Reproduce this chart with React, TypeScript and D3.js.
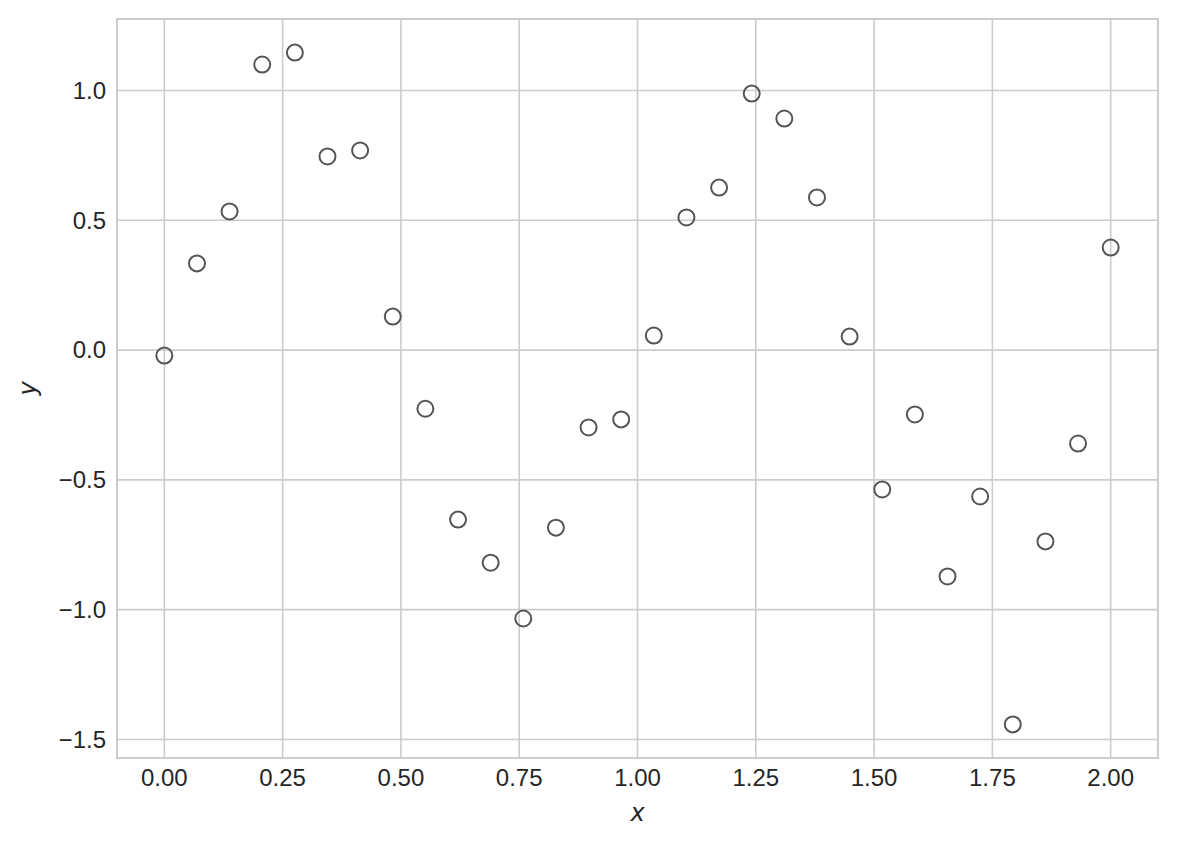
import React from "react";
import * as d3 from "d3";

const xValues = [
  0, 0.069, 0.1379, 0.2069, 0.2759, 0.3448, 0.4138, 0.4828, 0.5517, 0.6207,
  0.6897, 0.7586, 0.8276, 0.8966, 0.9655, 1.0345, 1.1034, 1.1724, 1.2414, 1.3103,
  1.3793, 1.4483, 1.5172, 1.5862, 1.6552, 1.7241, 1.7931, 1.8621, 1.931, 2.0,
];
const yValues = [
  -0.021, 0.334, 0.534, 1.1, 1.146, 0.746, 0.769, 0.129, -0.226, -0.653,
  -0.819, -1.034, -0.684, -0.298, -0.267, 0.056, 0.511, 0.626, 0.988, 0.892,
  0.588, 0.052, -0.537, -0.248, -0.872, -0.564, -1.442, -0.737, -0.36, 0.395,
];
const xTicks = [0, 0.25, 0.5, 0.75, 1.0, 1.25, 1.5, 1.75, 2.0];
const yTicks = [-1.5, -1.0, -0.5, 0.0, 0.5, 1.0];
const xLabel = "x";
const yLabel = "y";

const W = 1177;
const H = 845;
const L = 117, R = 1158, T = 19, B = 758;
const FONT = "'Liberation Sans', Arial, sans-serif";

function padded([a, b]: [number, number]): [number, number] {
  const m = (b - a) * 0.05;
  return [a - m, b + m];
}

export default function App() {
  const x = d3.scaleLinear().domain(padded(d3.extent(xValues) as [number, number])).range([L, R]);
  const y = d3.scaleLinear().domain(padded(d3.extent(yValues) as [number, number])).range([B, T]);
  const fx = d3.format(".2f");
  const fy = (v: number) => d3.format(".1f")(v).replace("-", "\u2212");
  const pts = xValues.map((v, i) => [v, yValues[i]]);

  return (
    <svg
      width={W}
      height={H}
      style={{ position: "absolute", left: 0, top: 0, display: "block", background: "#fff" }}
    >
      <rect x={0} y={0} width={W} height={H} fill="#fff" />
      {xTicks.map((t) => (
        <line key={"gx" + t} x1={x(t)} x2={x(t)} y1={T} y2={B} stroke="#cccccc" strokeWidth={1.6} />
      ))}
      {yTicks.map((t) => (
        <line key={"gy" + t} x1={L} x2={R} y1={y(t)} y2={y(t)} stroke="#cccccc" strokeWidth={1.6} />
      ))}
      <rect x={L} y={T} width={R - L} height={B - T} fill="none" stroke="#cccccc" strokeWidth={2} />
      {pts.map(([a, b], i) => (
        <circle key={i} cx={x(a)} cy={y(b)} r={8} fill="none" stroke="#555555" strokeWidth={2} />
      ))}
      {xTicks.map((t) => (
        <text key={"tx" + t} x={x(t)} y={786} textAnchor="middle" fontFamily={FONT} fontSize={24} fill="#262626">
          {fx(t)}
        </text>
      ))}
      {yTicks.map((t) => (
        <text key={"ty" + t} x={106} y={y(t)} dy="0.35em" textAnchor="end" fontFamily={FONT} fontSize={24} fill="#262626">
          {fy(t)}
        </text>
      ))}
      <text x={(L + R) / 2} y={821} textAnchor="middle" fontFamily="'DejaVu Sans', sans-serif" fontStyle="italic" fontSize={24} fill="#262626">
        {xLabel}
      </text>
      <text
        transform={`translate(36,${(T + B) / 2}) rotate(-90)`}
        textAnchor="middle"
        fontFamily="'DejaVu Sans', sans-serif"
        fontStyle="italic"
        fontSize={24}
        fill="#262626"
      >
        {yLabel}
      </text>
    </svg>
  );
}
